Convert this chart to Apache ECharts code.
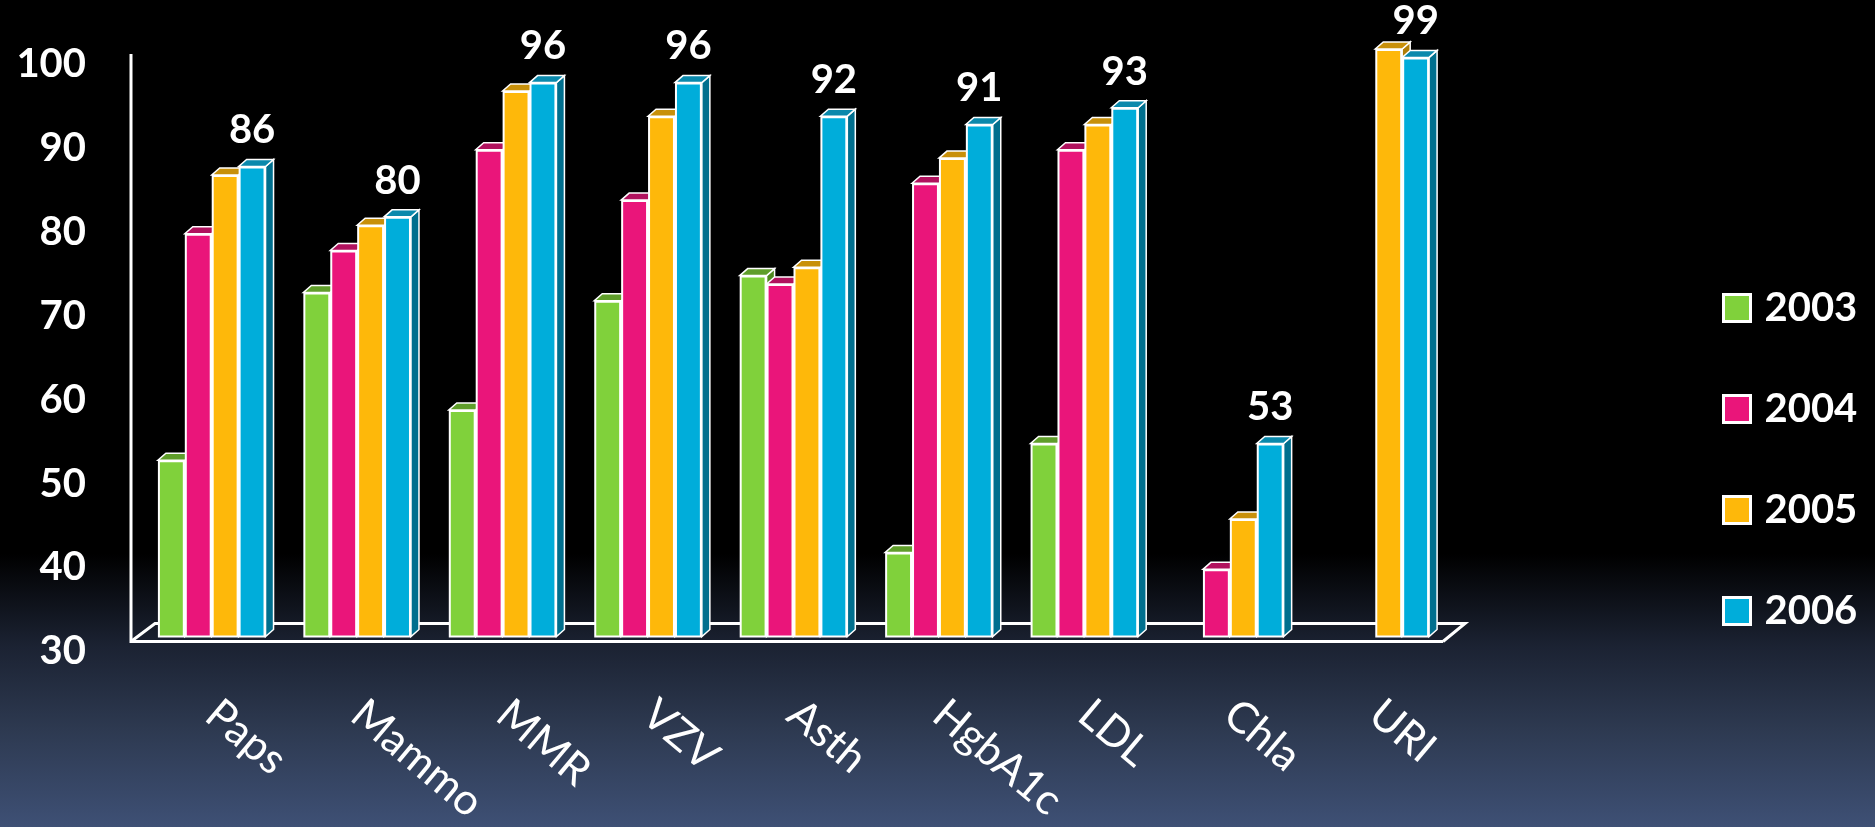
<!DOCTYPE html>
<html><head><meta charset="utf-8">
<style>
html,body{margin:0;padding:0;width:1875px;height:827px;overflow:hidden;
background:linear-gradient(to bottom,#000 0%,#000 67%,#1b2232 78%,#2d3950 88%,#3e5075 100%);}
#c{width:1875px;height:827px;}
</style>
<script src="https://cdn.jsdelivr.net/npm/echarts@6/dist/echarts.min.js"></script>
</head><body><div id="c"></div>
<script>
const categories = ['Paps','Mammo','MMR','VZV','Asth','HgbA1c','LDL','Chla','URI'];
const years = ['2003','2004','2005','2006'];
const v2003 = [51, 71, 57, 70, 73, 40, 53, null, null];
const v2004 = [78, 76, 88, 82, 72, 84, 88, 38, null];
const v2005 = [85, 79, 95, 92, 74, 87, 91, 44, 100];
const v2006 = [86, 80, 96, 96, 92, 91, 93, 53, 99];
const yMin = 30, yMax = 100, yStep = 10;

const seriesValues = [v2003, v2004, v2005, v2006];
const frontColors = ['#80D13B', '#EA157A', '#FEB80A', '#00ADDA'];
const topColors   = ['#5F9E2A', '#B1125E', '#C8900A', '#0A89AC'];
const sideColors  = ['#4F8A1F', '#9C0F52', '#B07E06', '#006F8E'];
const BAR_FRAC = 0.185, DX = 8, DY = 7;
const FONT = 'Lato';

const chart = echarts.init(document.getElementById('c'), null, {renderer:'canvas'});

function floorRender(params, api){
  const cs = params.coordSys;
  const L = cs.x, R = cs.x + cs.width, B = cs.y + cs.height, T = cs.y;
  const fx0 = L - 8, fx1 = R - 5, fy = B + 5;
  const bx0 = L + 16, bx1 = R + 17, by = B - 13;
  return {type:'group', children:[
    {type:'polyline', shape:{points:[[fx0, T + 5],[fx0, fy],[fx1, fy]]}, style:{stroke:'#fff', lineWidth:3, fill:null}},
    {type:'polyline', shape:{points:[[fx0, fy],[bx0, by],[bx1, by],[fx1, fy]]}, style:{stroke:'#fff', lineWidth:3, fill:null}}
  ]};
}

function make3D(i){
  return function(params, api){
    const k = api.value(0), v = api.value(1);
    const top = api.coord([k, v]);
    const base = api.coord([k, yMin]);
    const band = api.size([1, 0])[0];
    const bw = band * BAR_FRAC;
    const x0 = top[0] + (i - 2) * bw, x1 = x0 + bw;
    const yt = top[1], yb = base[1];
    return {type:'group', children:[
      {type:'polygon', shape:{points:[[x1, yt],[x1 + DX, yt - DY],[x1 + DX, yb - DY],[x1, yb]]},
        style:{fill: sideColors[i], stroke:'#fff', lineWidth:1.5}},
      {type:'polygon', shape:{points:[[x0, yt],[x1, yt],[x1 + DX, yt - DY],[x0 + DX, yt - DY]]},
        style:{fill: topColors[i], stroke:'#fff', lineWidth:1.5}}
    ]};
  };
}

const series = [];
series.push({type:'custom', name:'floor', z:1, silent:true, data:[[0, yMin]], encode:{x:0, y:1}, renderItem: floorRender});
years.forEach((y, i) => {
  const d = [];
  seriesValues[i].forEach((v, k) => { if (v != null) d.push([k, v]); });
  series.push({type:'custom', name: y + ' 3d', z:2, silent:true, data:d, encode:{x:0, y:1}, renderItem: make3D(i)});
});
years.forEach((y, i) => {
  series.push({
    type:'bar', name:y, z:3, data: seriesValues[i].map(v => v == null ? '-' : v),
    barWidth: (BAR_FRAC * 100) + '%', barGap:'0%',
    itemStyle:{color: frontColors[i], borderColor:'#fff', borderWidth:2},
    label: i === 3 ? {show:true, position:'top', distance:16, color:'#fff', fontSize:40, fontFamily:FONT, fontWeight:'bold'} : {show:false}
  });
});

chart.setOption({
  backgroundColor:'transparent',
  animation:false,
  grid:{left:139, right:427, top:49, bottom:187, containLabel:false},
  legend:{orient:'vertical', left:1717, top:283, itemWidth:27, itemHeight:27, itemGap:61, icon:'rect',
    data: years, selectedMode:false,
    itemStyle:{borderColor:'#fff', borderWidth:3},
    textStyle:{color:'#fff', fontSize:40, fontFamily:FONT, fontWeight:'bold', padding:[0,0,0,9]}},
  xAxis:{type:'category', data:categories, axisLine:{show:false}, axisTick:{show:false}, splitLine:{show:false},
    axisLabel:{color:'#fff', fontSize:43, fontFamily:FONT, fontWeight:'normal', rotate:-40, margin:72, interval:0}},
  yAxis:{type:'value', min:yMin, max:yMax, interval:yStep, offset:8,
    axisLine:{show:false}, axisTick:{show:false}, splitLine:{show:false},
    axisLabel:{color:'#fff', fontSize:40, fontFamily:FONT, fontWeight:'bold', margin:45, verticalAlign:'top', lineHeight:30}},
  series: series
});
</script></body></html>
